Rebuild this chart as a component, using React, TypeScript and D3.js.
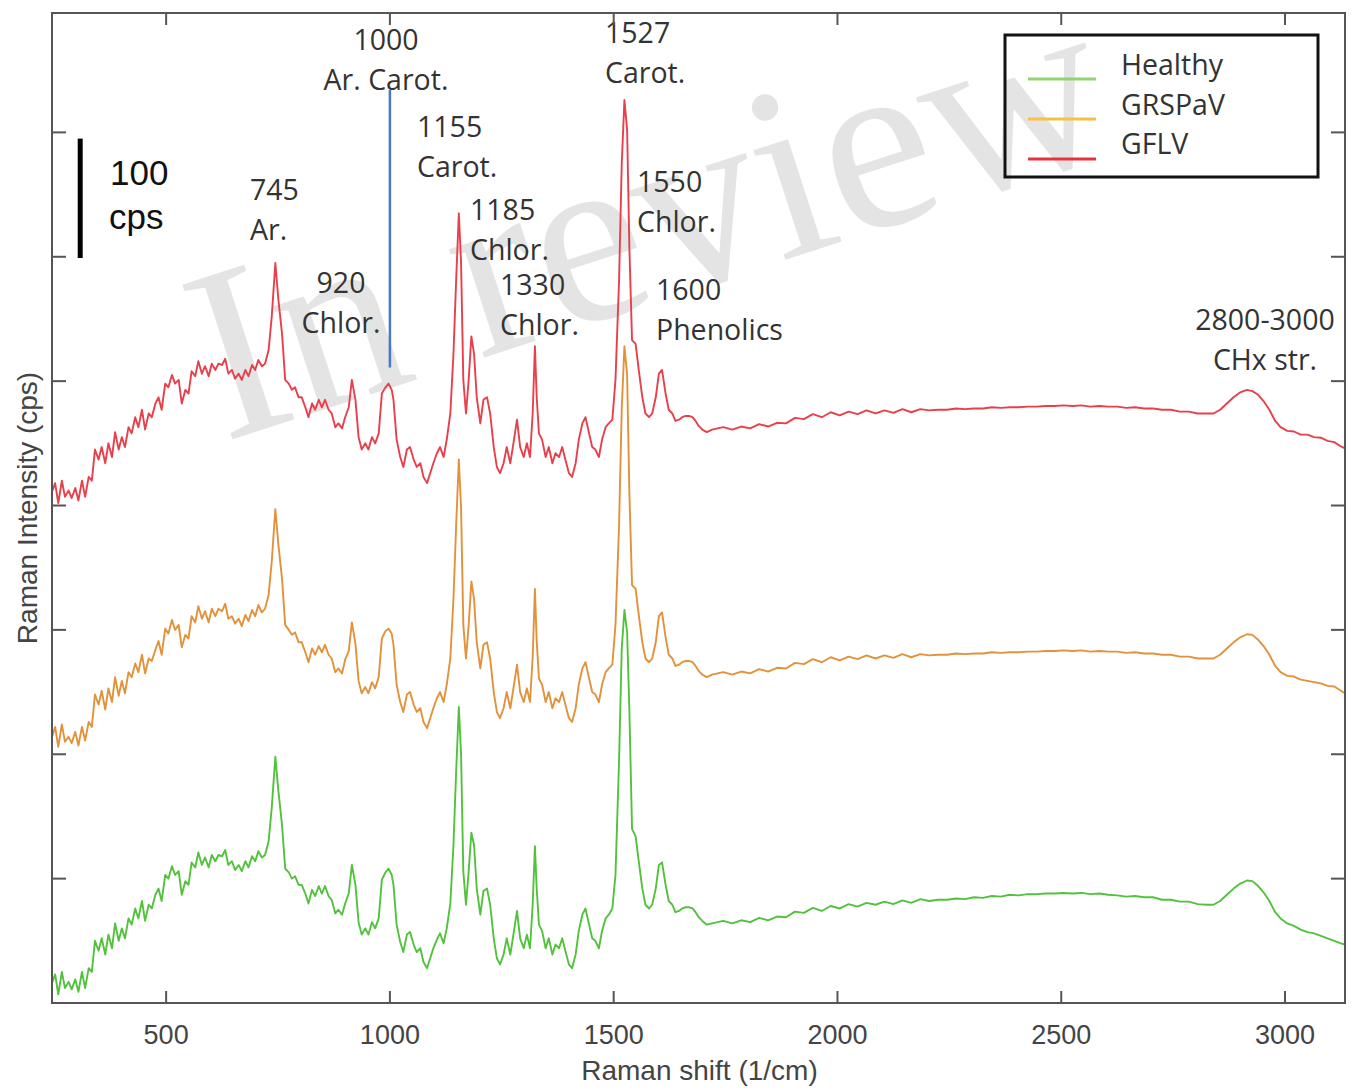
import React from 'react';
import * as d3 from 'd3';

// Raman shift (1/cm) sampling grid shared by the three spectra
const shifts = [
  246, 252, 259, 267, 274, 282, 289, 297, 304, 312,
  319, 327, 334, 341, 349, 356, 364, 371, 379, 386,
  394, 401, 408, 416, 423, 431, 438, 446, 453, 461,
  468, 476, 483, 490, 498, 505, 513, 520, 528, 535,
  543, 550, 557, 565, 572, 580, 587, 595, 602, 610,
  617, 625, 632, 639, 647, 654, 662, 669, 677, 684,
  692, 699, 706, 714, 721, 729, 736, 744, 751, 759,
  766, 774, 781, 788, 796, 803, 811, 818, 826, 833,
  841, 848, 855, 863, 870, 878, 885, 893, 900, 908,
  915, 923, 930, 937, 945, 952, 960, 967, 975, 982,
  990, 997, 1004, 1008, 1015, 1023, 1030, 1038, 1045, 1053,
  1060, 1068, 1075, 1083, 1090, 1097, 1105, 1112, 1120, 1127,
  1135, 1142, 1148, 1154, 1159, 1164, 1170, 1176, 1182, 1188,
  1194, 1202, 1209, 1217, 1224, 1232, 1239, 1246, 1254, 1261,
  1269, 1276, 1284, 1291, 1299, 1306, 1313, 1319, 1324, 1328,
  1333, 1340, 1348, 1355, 1363, 1370, 1378, 1385, 1392, 1400,
  1407, 1415, 1422, 1430, 1437, 1445, 1452, 1459, 1467, 1474,
  1482, 1489, 1497, 1504, 1512, 1518, 1524, 1530, 1535, 1541,
  1549, 1556, 1564, 1571, 1579, 1586, 1594, 1601, 1608, 1616,
  1623, 1631, 1638, 1646, 1653, 1661, 1668, 1676, 1683, 1690,
  1698, 1708, 1720, 1732, 1745, 1765, 1785, 1805, 1825, 1845,
  1865, 1885, 1905, 1925, 1945, 1965, 1985, 2005, 2025, 2045,
  2065, 2085, 2105, 2125, 2145, 2165, 2185, 2205, 2225, 2245,
  2265, 2285, 2305, 2325, 2345, 2365, 2385, 2405, 2425, 2445,
  2465, 2485, 2505, 2525, 2545, 2565, 2585, 2605, 2625, 2645,
  2665, 2685, 2705, 2725, 2745, 2765, 2785, 2805, 2825, 2840,
  2855, 2870, 2885, 2900, 2915, 2927, 2940, 2952, 2965, 2978,
  2990, 3005, 3020, 3035, 3050, 3065, 3080, 3095, 3110, 3125,
  3134,
];

// GFLV spectrum (cps, offset stacked)
const gflv = [
  412, 418, 402, 420, 407, 412, 406, 414, 404, 420,
  407, 423, 420, 445, 437, 447, 434, 450, 439, 459,
  445, 455, 447, 463, 458, 471, 463, 477, 461, 474,
  471, 482, 487, 477, 498, 495, 505, 498, 501, 482,
  493, 490, 508, 504, 516, 506, 512, 504, 514, 509,
  514, 513, 518, 506, 509, 502, 506, 501, 509, 504,
  513, 509, 517, 512, 514, 525, 552, 595, 565, 538,
  501, 498, 493, 495, 487, 487, 479, 471, 482, 477,
  485, 479, 485, 477, 474, 463, 466, 462, 471, 479,
  501, 485, 455, 445, 450, 445, 455, 450, 458, 490,
  495, 498, 493, 485, 453, 439, 431, 445, 447, 437,
  431, 434, 423, 418, 426, 434, 442, 447, 439, 453,
  474, 522, 581, 635, 595, 501, 474, 501, 536, 522,
  487, 466, 485, 487, 474, 447, 431, 426, 434, 447,
  434, 450, 469, 447, 439, 450, 439, 474, 528, 487,
  458, 453, 439, 447, 434, 442, 439, 447, 437, 426,
  423, 434, 453, 466, 471, 458, 447, 445, 439, 453,
  463, 466, 469, 501, 581, 675, 726, 702, 608, 533,
  530, 509, 487, 474, 471, 474, 487, 506, 509, 490,
  477, 474, 468, 469, 471, 472, 472, 471, 468, 464,
  461, 459, 461, 462, 463, 461, 463.5, 462, 465.5, 463.5,
  466.5, 466, 470.5, 469.5, 473.5, 471, 475, 472.5, 475.5, 473.5,
  476.5, 474, 476.5, 474.5, 477.5, 475, 477.5, 476.5, 477, 477,
  478, 477.5, 478, 478, 479, 478.5, 479, 479, 479.5, 479.5,
  480, 480, 480.5, 480, 480.5, 479.5, 480, 479.5, 479.5, 478.5,
  479, 478, 478, 477, 477, 475.5, 475.5, 474, 474, 474,
  477, 482, 487, 491, 493, 492, 489, 484, 477, 468,
  463, 460, 459.5, 457, 457, 455, 454.5, 452, 451, 447.5,
  446,
];

// GRSPaV spectrum (cps, offset stacked)
const grspav = [
  215, 222, 206, 224, 210, 214, 209, 218, 207, 222,
  211, 226, 222, 248, 240, 251, 236, 253, 242, 262,
  247, 259, 249, 266, 262, 273, 266, 280, 265, 277,
  275, 284, 291, 280, 301, 297, 308, 300, 304, 286,
  296, 293, 311, 306, 319, 309, 315, 306, 317, 311,
  317, 315, 321, 309, 311, 305, 309, 303, 312, 307,
  316, 311, 320, 314, 317, 328, 355, 397, 368, 341,
  304, 300, 296, 298, 290, 290, 282, 274, 285, 280,
  287, 282, 288, 280, 277, 266, 269, 265, 276, 283,
  306, 289, 259, 249, 254, 249, 258, 253, 262, 293,
  299, 301, 297, 288, 256, 242, 234, 248, 250, 240,
  234, 237, 226, 221, 229, 237, 245, 250, 242, 256,
  277, 325, 384, 437, 398, 304, 277, 304, 339, 325,
  290, 269, 288, 290, 277, 250, 234, 229, 237, 250,
  237, 253, 272, 250, 242, 253, 242, 278, 333, 291,
  261, 256, 242, 250, 237, 245, 242, 250, 240, 229,
  226, 237, 256, 269, 274, 261, 250, 248, 242, 256,
  266, 269, 272, 304, 384, 478, 528, 505, 411, 336,
  333, 312, 290, 277, 274, 277, 290, 311, 314, 294,
  280, 277, 271, 272, 274, 275, 275, 274, 271, 267,
  264, 262, 264, 265, 266, 264, 266.5, 265, 268.5, 266.5,
  269.5, 269, 273.5, 272.5, 276.5, 274, 278, 275.5, 278.5, 276.5,
  279.5, 277, 279.5, 277.5, 280.5, 278, 280.5, 279.5, 280, 280,
  281, 280.5, 281, 281, 282, 281.5, 282, 282, 282.5, 282.5,
  283, 283, 283.5, 283, 283.5, 282.5, 283, 282.5, 282.5, 281.5,
  282, 281, 281, 280, 280, 278.5, 278.5, 277, 277, 277,
  280, 285, 290, 294, 296.5, 296, 292, 287, 280, 271,
  266, 263, 262.5, 260, 259, 258, 257, 255, 254.5, 251,
  249,
];

// Healthy spectrum (cps, bottom trace)
const healthy = [
  17, 23, 7, 25, 12, 17, 11, 19, 9, 25,
  12, 28, 25, 50, 42, 52, 39, 55, 44, 64,
  50, 60, 52, 68, 63, 76, 68, 82, 66, 79,
  76, 87, 92, 82, 103, 100, 110, 103, 106, 87,
  98, 95, 113, 109, 121, 111, 117, 109, 119, 114,
  119, 118, 123, 111, 114, 107, 111, 106, 114, 109,
  118, 114, 122, 117, 119, 130, 157, 198, 170, 143,
  108, 105, 100, 102, 95, 95, 88, 80, 91, 86,
  94, 88, 94, 86, 83, 72, 75, 71, 80, 88,
  111, 95, 65, 55, 60, 55, 65, 60, 68, 99,
  105, 108, 103, 95, 63, 49, 41, 55, 57, 47,
  41, 44, 33, 28, 36, 44, 51, 56, 48, 60,
  80, 127, 186, 238, 200, 106, 79, 106, 137, 127,
  92, 71, 90, 92, 79, 52, 36, 31, 39, 52,
  39, 55, 74, 52, 44, 55, 44, 79, 126, 92,
  63, 58, 44, 52, 39, 47, 44, 52, 42, 31,
  28, 39, 58, 71, 76, 63, 52, 50, 44, 58,
  68, 71, 76, 103, 195, 285, 316, 298, 236, 140,
  134, 114, 92, 79, 76, 79, 92, 111, 113, 95,
  82, 79, 73, 74, 76, 77, 77, 76, 73, 69,
  66, 63, 64, 65, 66, 64, 66.5, 65, 68.5, 66.5,
  69.5, 69, 73.5, 72.5, 76.5, 74, 78, 76, 79.5, 77.5,
  80.5, 79, 81.5, 79.5, 82.5, 80.5, 83.5, 82, 83, 83,
  84, 83.5, 85, 84.5, 86, 85.5, 87, 86.5, 87.5, 87.5,
  88, 88, 88.5, 88, 88.5, 87.5, 88, 87, 86.5, 85.5,
  86, 85, 85, 83, 83, 81.5, 81.5, 79.5, 79, 79,
  82, 87, 92, 96, 98.5, 98, 94, 89, 82, 73,
  68, 64, 62, 59, 57, 56, 54, 52, 50, 48,
  47,
];

const xTicks = [500, 1000, 1500, 2000, 2500, 3000];
const yTicks = [100, 200, 300, 400, 500, 600, 700];

const seriesNames = ['Healthy', 'GRSPaV', 'GFLV'];
const seriesValues = [healthy, grspav, gflv];
const lineColors = ['#52c23c', '#e2923a', '#e8404a'];
const legendColors = ['#93d46f', '#f7c244', '#e8323c'];

// peak annotation texts (two lines each)
const peakTop = ['745', '920', '1000', '1155', '1185', '1330', '1527', '1550', '1600', '2800-3000'];
const peakBottom = ['Ar.', 'Chlor.', 'Ar. Carot.', 'Carot.', 'Chlor.', 'Chlor.', 'Carot.', 'Chlor.', 'Phenolics', 'CHx str.'];

// reference line at 1000 (cps span) and scale bar (cps span)
const markerShift = 1000;
const markerSpan = [511, 734];
const scaleBarShift = 308;
const scaleBarSpan = [599, 695];

export default function App() {
  const W = 1356;
  const H = 1092;
  const L = 52, R = 1345, T = 13, B = 1003;
  const x = d3.scaleLinear().domain([245, 3134]).range([L, R]);
  const y = d3.scaleLinear().domain([0, 796]).range([B, T]);

  const n = Math.min(shifts.length, gflv.length, grspav.length, healthy.length);
  const line = d3
    .line<number>()
    .x((_, i) => x(shifts[i]))
    .y((d) => y(d));

  // annotation layout: [x, firstBaseline, anchor] per label
  const annLayout: [number, number, string][] = [
    [250, 200, 'start'],
    [341, 293, 'middle'],
    [386, 50, 'middle'],
    [417, 137, 'start'],
    [470, 220, 'start'],
    [500, 295, 'start'],
    [605, 43, 'start'],
    [637, 192, 'start'],
    [656, 300, 'start'],
    [1265, 330, 'middle'],
  ];

  const annFont = "'Open Sans', 'Noto Sans', sans-serif";
  const axFont = "'Liberation Sans', Arial, sans-serif";

  return (
    <svg
      width={W}
      height={H}
      viewBox={`0 0 ${W} ${H}`}
      style={{ position: 'absolute', left: 0, top: 0, background: '#fff' }}
    >
      <rect x={0} y={0} width={W} height={H} fill="#fff" />
      <defs>
        <clipPath id="plotClip">
          <rect x={L} y={T} width={R - L} height={B - T} />
        </clipPath>
      </defs>

      {/* watermark */}
      <text
        transform="translate(224,442) rotate(-18)"
        fontFamily="'Liberation Serif', 'DejaVu Serif', serif"
        fontSize={248}
        fill="#d6d6d6"
        opacity={0.65}
      >
        In review
      </text>

      {/* spectra */}
      <g clipPath="url(#plotClip)">
        {seriesValues.map((vals, si) => (
          <path
            key={seriesNames[si]}
            d={line(vals.slice(0, n)) || ''}
            fill="none"
            stroke={lineColors[si]}
            strokeWidth={1.9}
            strokeLinejoin="round"
          />
        ))}
      </g>

      {/* 1000 marker line */}
      <line
        x1={x(markerShift)}
        x2={x(markerShift)}
        y1={y(markerSpan[0])}
        y2={y(markerSpan[1])}
        stroke="#4a78c8"
        strokeWidth={2.5}
      />

      {/* scale bar */}
      <line
        x1={x(scaleBarShift)}
        x2={x(scaleBarShift)}
        y1={y(scaleBarSpan[0])}
        y2={y(scaleBarSpan[1])}
        stroke="#000"
        strokeWidth={5}
      />
      <text x={110} y={185} fontFamily={axFont} fontSize={35} fill="#111">100</text>
      <text x={109} y={229} fontFamily={axFont} fontSize={35} fill="#111">cps</text>

      {/* annotations */}
      {peakTop.map((t, i) => (
        <text
          key={t}
          fontFamily={annFont}
          fontSize={28.5}
          fill="#333"
          textAnchor={annLayout[i][2] as any}
        >
          <tspan x={annLayout[i][0]} y={annLayout[i][1]}>{t}</tspan>
          <tspan x={annLayout[i][0]} y={annLayout[i][1] + 40}>{peakBottom[i]}</tspan>
        </text>
      ))}

      {/* frame */}
      <rect x={L} y={T} width={R - L} height={B - T} fill="none" stroke="#555" strokeWidth={2} />
      {xTicks.map((t) => (
        <g key={'x' + t}>
          <line x1={x(t)} x2={x(t)} y1={B} y2={B - 12} stroke="#555" strokeWidth={2} />
          <line x1={x(t)} x2={x(t)} y1={T} y2={T + 12} stroke="#555" strokeWidth={2} />
          <text
            x={x(t)}
            y={1044}
            textAnchor="middle"
            fontFamily={axFont}
            fontSize={27}
            fill="#444"
          >
            {t}
          </text>
        </g>
      ))}
      {yTicks.map((t) => (
        <g key={'y' + t}>
          <line x1={L} x2={L + 14} y1={y(t)} y2={y(t)} stroke="#555" strokeWidth={2} />
          <line x1={R} x2={R - 14} y1={y(t)} y2={y(t)} stroke="#555" strokeWidth={2} />
        </g>
      ))}

      {/* axis titles */}
      <text
        x={(L + R) / 2 + 1}
        y={1080}
        textAnchor="middle"
        fontFamily={axFont}
        fontSize={28}
        fill="#444"
      >
        Raman shift (1/cm)
      </text>
      <text
        transform={`translate(37,${(T + B) / 2}) rotate(-90)`}
        textAnchor="middle"
        fontFamily={axFont}
        fontSize={28}
        fill="#444"
      >
        Raman Intensity (cps)
      </text>

      {/* legend (transparent, watermark shows through) */}
      <rect x={1005} y={35} width={313} height={142} fill="none" stroke="#111" strokeWidth={3} />
      {seriesNames.map((s, i) => (
        <g key={s}>
          <line
            x1={1028}
            x2={1096}
            y1={79 + i * 40}
            y2={79 + i * 40}
            stroke={legendColors[i]}
            strokeWidth={3}
          />
          <text x={1121} y={75 + i * 39.5} fontFamily={annFont} fontSize={28.5} fill="#333">
            {s}
          </text>
        </g>
      ))}
    </svg>
  );
}
